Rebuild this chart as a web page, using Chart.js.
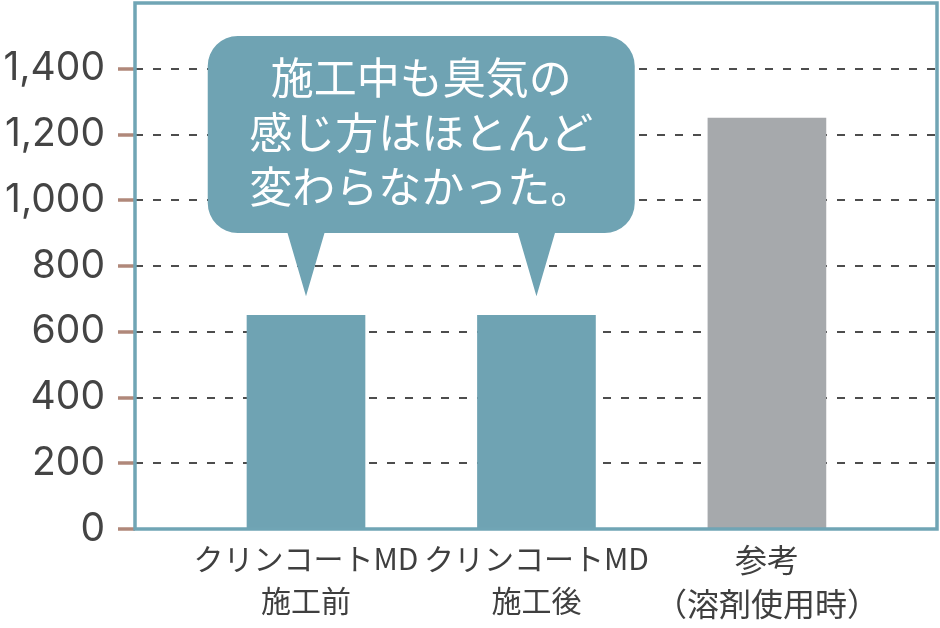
<!DOCTYPE html>
<html>
<head>
<meta charset="utf-8">
<script src="https://cdn.jsdelivr.net/npm/chart.js@4"></script>
<style>
  html, body { margin: 0; padding: 0; background: #ffffff; }
  #wrap { width: 940px; height: 628px; position: relative; }
</style>
</head>
<body>
<div id="wrap"><canvas id="c" width="940" height="628"></canvas></div>
<script>
// ---- data ----
const categories = [
  ['クリンコートMD', '施工前'],
  ['クリンコートMD', '施工後'],
  ['参考', '（溶剤使用時）']
];
const values = [650, 650, 1250];
const barColors = ['#6fa3b3', '#6fa3b3', '#a6a9ac'];
const yTickValues = [0, 200, 400, 600, 800, 1000, 1200, 1400];
const calloutLines = ['施工中も臭気の', '感じ方はほとんど', '変わらなかった。'];
const calloutTargets = [0, 1]; // bar indices the callout points to

const FRAME = '#70a5b5';

const whiteBg = {
  id: 'whiteBg',
  beforeDraw(chart) {
    const ctx = chart.ctx;
    ctx.save();
    ctx.fillStyle = '#ffffff';
    ctx.fillRect(0, 0, chart.width, chart.height);
    ctx.restore();
  }
};

const frameAndCallout = {
  id: 'frameAndCallout',
  afterDatasetsDraw(chart) {
    const ctx = chart.ctx;
    const a = chart.chartArea;
    const xs = chart.scales.x, ys = chart.scales.y;
    ctx.save();
    // frame
    ctx.strokeStyle = FRAME;
    ctx.lineWidth = 3.5;
    ctx.strokeRect(a.left, a.top, a.right - a.left, a.bottom - a.top);

    // callout bubble
    const tips = calloutTargets.map(i => ({
      x: xs.getPixelForValue(i),
      y: ys.getPixelForValue(values[i]) - 19
    }));
    const cx = (tips[0].x + tips[1].x) / 2;
    const bw = 427, bh = 197, r = 30;
    const bx = cx - bw / 2, by = 36;
    const bb = by + bh;
    ctx.fillStyle = '#6fa3b3';
    ctx.beginPath();
    ctx.moveTo(bx + r, by);
    ctx.lineTo(bx + bw - r, by);
    ctx.arcTo(bx + bw, by, bx + bw, by + r, r);
    ctx.lineTo(bx + bw, bb - r);
    ctx.arcTo(bx + bw, bb, bx + bw - r, bb, r);
    // right pointer
    ctx.lineTo(tips[1].x + 18.5, bb);
    ctx.lineTo(tips[1].x, tips[1].y);
    ctx.lineTo(tips[1].x - 18.5, bb);
    // left pointer
    ctx.lineTo(tips[0].x + 18.5, bb);
    ctx.lineTo(tips[0].x, tips[0].y);
    ctx.lineTo(tips[0].x - 18.5, bb);
    ctx.lineTo(bx + r, bb);
    ctx.arcTo(bx, bb, bx, bb - r, r);
    ctx.lineTo(bx, by + r);
    ctx.arcTo(bx, by, bx + r, by, r);
    ctx.closePath();
    ctx.fill();

    ctx.fillStyle = '#ffffff';
    ctx.font = '400 43px "Noto Sans CJK JP"';
    ctx.textAlign = 'center';
    ctx.textBaseline = 'middle';
    calloutLines.forEach((t, i) => {
      ctx.fillText(t, cx, by + 42 + i * 54.5);
    });
    ctx.restore();
  }
};

new Chart(document.getElementById('c'), {
  type: 'bar',
  data: {
    datasets: [{
      data: values.map((v, i) => ({ x: i, y: v })),
      backgroundColor: barColors,
      borderWidth: 0,
      barThickness: 118
    }]
  },
  options: {
    responsive: false,
    animation: false,
    devicePixelRatio: 1,
    layout: { padding: { top: 3, right: 3, left: 0, bottom: 0 } },
    plugins: { legend: { display: false }, tooltip: { enabled: false } },
    scales: {
      x: {
        type: 'linear',
        offset: false,
        min: -0.742,
        max: 2.738,
        border: { display: false },
        grid: { display: false, drawTicks: false, offset: false },
        afterBuildTicks(scale) {
          scale.ticks = categories.map((c, i) => ({ value: i }));
        },
        afterFit(scale) {
          scale.height = 99;
          scale.paddingLeft = 0; scale.paddingRight = 0;
        },
        ticks: {
          autoSkip: false,
          maxRotation: 0,
          padding: 9,
          color: '#3f3f3f',
          font: (ctx) => ctx.index === 2
            ? { family: '"Noto Sans CJK JP"', size: 32, lineHeight: 1.375 }
            : { family: '"Noto Sans CJK JP"', size: 30, lineHeight: 1.4 },
          callback: (v) => categories[v]
        }
      },
      y: {
        min: 0,
        max: 1600,
        border: { display: false, dash: [8, 10] },
        afterBuildTicks(scale) {
          scale.ticks = yTickValues.map(v => ({ value: v }));
        },
        afterFit(scale) {
          scale.width = 135;
          scale.paddingTop = 0; scale.paddingBottom = 0;
        },
        grid: {
          color: (ctx) => (ctx.tick && ctx.tick.value === 0) ? 'rgba(0,0,0,0)' : '#4d4d4d',
          lineWidth: 2,
          tickColor: '#b0887a',
          tickLength: 17,
          tickWidth: 3.5,
          tickBorderDash: []
        },
        ticks: {
          padding: 13,
          color: '#444444',
          font: { family: 'Inter, "Liberation Sans", sans-serif', size: 39 },
          callback: (v) => v.toLocaleString('en-US')
        }
      }
    }
  },
  plugins: [whiteBg, frameAndCallout]
});
</script>
</body>
</html>
